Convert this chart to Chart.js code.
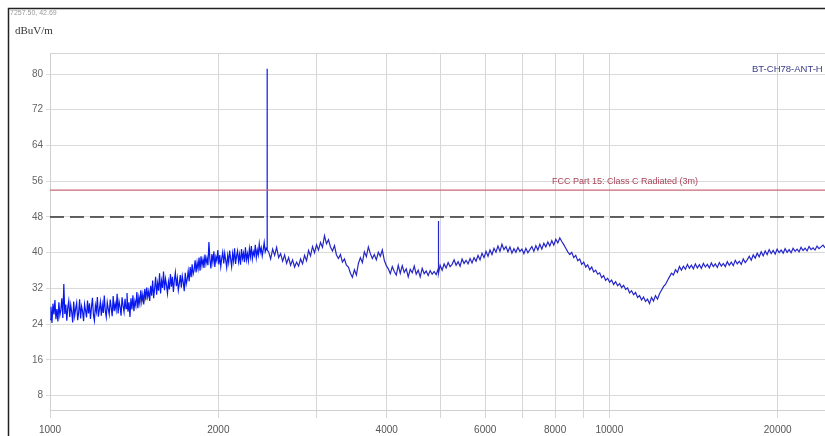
<!DOCTYPE html>
<html><head><meta charset="utf-8">
<script src="https://cdn.jsdelivr.net/npm/chart.js@4/dist/chart.umd.min.js"></script>
<style>html,body{margin:0;padding:0;background:#fff;}#wrap{position:relative;width:825px;height:436px;}</style>
</head><body><div id="wrap"><canvas id="c" width="825" height="436"></canvas></div>
<script>
// ---- data ----
// low band sweep: 1000 .. 2435 MHz (dense)
const lowFreqStart = 1000, lowFreqStop = 2435;
const lowLevels = [
25.0,27.9,24.3,28.6,26.2,29.4,25.1,27.4,24.6,28.9,26.0,27.2,29.8,25.4,33.0,26.3,28.4,24.8,27.7,29.2,
25.6,28.3,26.7,24.4,29.1,25.9,27.5,28.8,24.9,26.6,29.6,25.3,28.0,26.9,24.7,28.5,27.1,25.5,29.3,26.4,
28.7,25.2,27.8,29.9,26.1,24.8,28.2,26.8,30.1,25.7,27.3,29.0,25.9,28.4,26.5,30.4,27.0,25.6,28.9,27.4,
26.2,29.5,27.7,25.8,30.3,26.9,28.6,27.2,30.8,26.4,29.1,27.9,25.9,30.0,28.2,26.7,29.7,27.5,31.0,26.8,
28.9,25.6,29.8,27.3,30.5,26.9,29.2,28.1,31.2,27.6,30.0,28.6,31.6,29.0,30.7,28.4,31.9,29.5,32.2,30.1,
31.4,29.2,32.6,30.4,33.8,29.8,32.0,34.6,30.6,33.2,31.5,35.4,30.9,33.7,32.1,35.8,31.6,34.2,32.8,30.9,
33.5,31.8,35.2,32.4,34.6,31.2,33.9,35.6,32.5,34.3,31.6,33.1,35.0,32.2,34.8,33.4,31.4,35.5,33.0,34.1,
35.9,33.6,36.8,34.5,37.4,35.2,36.1,38.3,35.6,37.8,36.4,38.9,36.0,39.2,37.1,38.5,36.6,39.6,37.5,38.8,
37.2,42.4,38.4,36.5,39.7,37.9,40.3,36.8,39.1,38.2,40.6,37.4,39.5,36.9,38.8,40.1,37.6,39.9,38.3,36.7,
39.4,37.8,40.5,38.6,36.9,39.8,38.1,41.0,37.5,39.3,40.4,38.0,39.6,37.3,40.8,38.7,39.9,37.9,41.2,38.4,
39.8,38.2,40.9,39.1,41.5,38.6,40.2,39.4,41.8,38.9,40.6,39.5,42.0,40.1,41.1,39.3,40.7,42.3,40.2,41.0
];
// high band sweep: 2460 .. 24300 MHz
const highFreqStart = 2460, highFreqStop = 24300;
const highLevels = [
40.2,38.6,40.8,39.4,41.2,38.9,39.8,38.1,39.5,37.6,38.9,37.2,38.4,36.8,37.9,37.0,38.6,37.5,39.4,38.2,
40.5,39.3,41.4,40.0,41.8,40.6,42.3,41.2,43.8,42.0,42.9,41.3,40.4,41.6,39.5,38.7,39.6,37.9,38.6,37.2,
36.8,35.4,34.5,36.2,35.0,37.6,38.9,37.8,40.2,39.1,41.3,39.8,38.7,39.6,38.4,40.1,39.2,40.6,38.3,37.1,
36.4,35.3,36.9,35.8,35.0,37.2,35.4,37.1,35.6,36.4,34.6,36.3,35.5,37.0,35.2,36.1,34.6,36.5,35.3,35.9,
34.9,36.0,35.2,35.8,35.1,36.4,37.2,36.1,37.5,36.6,37.8,36.9,37.4,38.4,37.2,38.0,37.0,38.6,37.6,38.3,
37.5,38.7,37.7,38.9,38.1,39.4,38.4,39.9,38.9,40.3,39.2,40.6,39.6,41.0,40.1,41.5,40.3,41.9,40.7,41.4,
40.2,41.3,39.9,40.9,40.1,41.2,40.3,40.8,39.8,41.0,40.0,40.7,41.4,40.3,41.6,40.6,41.9,40.8,42.1,41.3,
42.4,41.5,42.7,41.7,43.0,42.2,43.3,42.5,41.8,41.0,40.2,39.6,40.1,38.9,39.4,38.2,38.6,37.4,37.9,36.8,
37.3,36.2,36.8,35.7,36.1,35.2,35.5,34.4,34.9,33.8,34.3,33.4,33.9,32.9,33.5,32.6,33.1,32.2,32.7,31.8,
32.1,31.0,31.5,30.6,31.1,30.0,30.4,29.4,30.1,29.1,29.6,28.6,30.0,29.2,30.4,29.6,30.8,31.6,32.4,32.9,
33.8,34.6,35.4,35.0,36.2,35.6,36.9,36.1,37.0,36.3,37.4,36.5,37.2,36.4,37.5,36.6,37.3,36.5,37.6,36.8,
37.4,36.6,37.7,36.9,37.5,36.7,37.8,37.0,37.6,36.9,38.0,37.2,37.9,37.1,38.3,37.5,38.1,37.4,38.6,37.8,
38.4,39.2,38.3,39.5,38.8,39.9,39.1,40.2,39.3,40.4,39.6,40.7,39.8,40.5,39.7,40.8,40.0,40.6,39.9,40.9,
40.1,40.7,40.0,41.0,40.3,40.8,40.2,41.2,40.5,41.0,40.4,41.4,40.7,41.1,40.6,41.5,40.9,41.3,41.7,41.1
];
const spikeFreqs = [2445, 4950];
const spikeBase = [40.6, 35.4];
const spikeLevels = [81.2, 47.1];
const markerFreqs = [1466];
const markerLevels = [29.8];
const limitLevel = 54;
const marginLevel = 48;
const limitLabel = 'FCC Part 15: Class C Radiated (3m)';
const traceName = 'BT-CH78-ANT-H';
const cursorText = '7257.50, 42.69';
const yUnit = 'dBuV/m';
const xTickValues = [1000,2000,3000,4000,5000,6000,7000,8000,9000,10000,20000];
const xTickLabels = ['1000','2000','','4000','','6000','','8000','','10000','20000'];
const yTickValues = [8,16,24,32,40,48,56,64,72,80];
const yMin = 4.8, yMax = 84.7;
const xMin = 1000, xMax = 24300;

// ---- build datasets ----
function sweep(levels, f0, f1){
  const n = levels.length;
  return levels.map((v,i)=>({x: f0*Math.pow(f1/f0, i/(n-1)), y: v}));
}
const lowPts = sweep(lowLevels, lowFreqStart, lowFreqStop);
const highPts = sweep(highLevels, highFreqStart, highFreqStop);
// spikes are joined into the trace
const s0 = [{x:spikeFreqs[0]*0.9999,y:spikeBase[0]},{x:spikeFreqs[0],y:spikeLevels[0]},{x:spikeFreqs[0]*1.0001,y:spikeBase[0]}];
lowPts.push(...s0, highPts[0]);
spikeFreqs.slice(1).forEach((f,k)=>{
  highPts.push({x:f*0.9999,y:spikeBase[k+1]},{x:f,y:spikeLevels[k+1]},{x:f*1.0001,y:spikeBase[k+1]});
});
highPts.sort((a,b)=>a.x-b.x);

const decor = {
  id:'decor',
  beforeDraw(chart){
    const ctx = chart.ctx;
    ctx.save(); ctx.fillStyle='#fff'; ctx.fillRect(0,0,chart.width,chart.height); ctx.restore();
  },
  afterDraw(chart){
    const {ctx, chartArea:a, scales:{x,y}} = chart;
    ctx.save();
    ctx.strokeStyle='#d4d4d4'; ctx.lineWidth=1;
    ctx.beginPath(); ctx.moveTo(a.left, a.top+0.5); ctx.lineTo(a.right, a.top+0.5); ctx.stroke();
    ctx.strokeStyle='#222'; ctx.lineWidth=1.5;
    ctx.beginPath(); ctx.moveTo(8.5, 436); ctx.lineTo(8.5, 8.5); ctx.lineTo(825, 8.5); ctx.stroke();
    ctx.fillStyle='#999'; ctx.font='7px "Liberation Sans", Arial'; ctx.textBaseline='middle'; ctx.textAlign='left';
    ctx.fillText(cursorText, 10, 13);
    ctx.fillStyle='#333'; ctx.font='11px "Liberation Serif", "Times New Roman", serif';
    ctx.fillText(yUnit, 15, 31);
    ctx.fillStyle='#3a3a88'; ctx.font='9.5px "Liberation Sans", Arial';
    ctx.fillText(traceName, 752, 69);
    ctx.fillStyle='#a84458'; ctx.font='9px "Liberation Sans", Arial'; ctx.textAlign='center';
    ctx.fillText(limitLabel, 625, y.getPixelForValue(limitLevel)-9);
    ctx.restore();
  }
};

new Chart(document.getElementById('c'), {
  type:'scatter',
  data:{ datasets:[
    {label:'limit', data:[{x:xMin,y:limitLevel},{x:xMax,y:limitLevel}], showLine:true, borderColor:'#c86a78', borderWidth:1.2, pointRadius:0},
    {label:'margin', data:[{x:xMin,y:marginLevel},{x:xMax,y:marginLevel}], showLine:true, borderColor:'#333', borderWidth:1.3, borderDash:[14,6], pointRadius:0},
    {label:traceName+' high', data:highPts, showLine:true, borderColor:'#2626c8', borderWidth:1.2, pointRadius:0, tension:0},
    {label:traceName+' low', data:lowPts, showLine:true, borderColor:'#0818ee', borderWidth:1.2, pointRadius:0, tension:0},
    {label:'marker', data:markerFreqs.map((f,i)=>({x:f,y:markerLevels[i]})), pointStyle:'rect', pointRadius:4, backgroundColor:'#ffee00', borderColor:'#d8c000', borderWidth:1}
  ]},
  options:{
    responsive:false, animation:false, devicePixelRatio:1,
    layout:{autoPadding:false, padding:{top:53,left:0,right:0,bottom:0}},
    plugins:{legend:{display:false}, tooltip:{enabled:false}},
    scales:{
      x:{type:'logarithmic', min:xMin, max:xMax,
        afterBuildTicks:(s)=>{ s.ticks = xTickValues.map(v=>({value:v})); },
        afterFit:(s)=>{ s.height = 26; s.paddingRight = 0; s.paddingLeft = 0; },
        grid:{color:'#d6d6d6', tickLength:8, tickColor:'#d6d6d6'},
        border:{display:true, color:'#d0d0d0'},
        ticks:{autoSkip:false, maxRotation:0, padding:6, color:'#555', font:{family:'"Liberation Sans", Arial', size:10},
          callback:(v,i)=>xTickLabels[i]}
      },
      y:{min:yMin, max:yMax,
        afterBuildTicks:(s)=>{ s.ticks = yTickValues.map(v=>({value:v})); },
        afterFit:(s)=>{ s.width = 50; },
        grid:{color:'#dadada', tickLength:4, tickColor:'#dadada'},
        border:{display:true, color:'#d0d0d0'},
        ticks:{padding:3, color:'#666', font:{family:'"Liberation Sans", Arial', size:10}, callback:(v)=>String(v)}
      }
    }
  },
  plugins:[decor]
});
</script></body></html>
